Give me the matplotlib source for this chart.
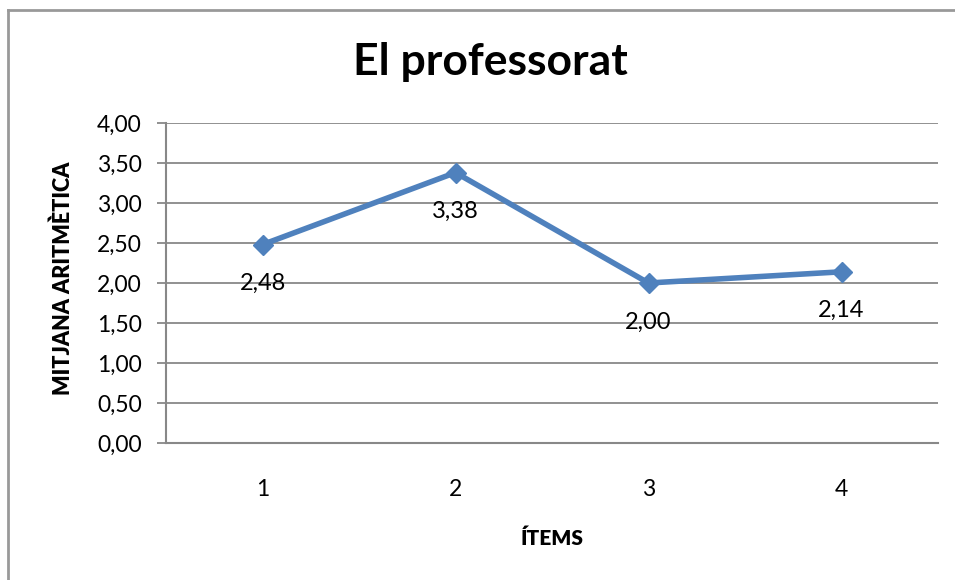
import matplotlib
matplotlib.use("Agg")
import matplotlib.pyplot as plt
from matplotlib.lines import Line2D

plt.rcParams['font.family'] = ['Lato', 'DejaVu Sans']

items = ["1", "2", "3", "4"]
means = [2.48, 3.38, 2.00, 2.14]
y_ticks = [0.0, 0.5, 1.0, 1.5, 2.0, 2.5, 3.0, 3.5, 4.0]

title = "El professorat"
x_label = "ÍTEMS"
y_label = "MITJANA ARITMÈTICA"

line_color = "#4F81BD"
grid_color = "#888888"

fig = plt.figure(figsize=(9.55, 5.80), dpi=100)
W, H = 955, 580

# outer chart frame (left and top edges)
fig.add_artist(Line2D([8 / W, 8 / W], [0, 1 - 10 / H], transform=fig.transFigure,
                      color="#999999", lw=2.0))
fig.add_artist(Line2D([8 / W, 1], [1 - 10 / H, 1 - 10 / H], transform=fig.transFigure,
                      color="#999999", lw=2.0))

ax = fig.add_axes([166 / W, 1 - 443 / H, 772 / W, 320 / H])

x = list(range(len(items)))
ax.plot(x, means, color=line_color, lw=4.0, marker="D", markersize=10,
        markerfacecolor=line_color, markeredgecolor=line_color, zorder=3)

for xi, v in zip(x, means):
    ax.annotate(f"{v:.2f}".replace(".", ","), (xi, v), xytext=(0, -28),
                textcoords="offset points", ha="center", va="center",
                fontsize=17, color="black")

ax.set_xlim(-0.5, len(items) - 0.5)
ax.set_ylim(0, 4)
ax.set_yticks(y_ticks)
ax.set_yticklabels([f"{t:.2f}".replace(".", ",") for t in y_ticks])
ax.set_xticks(x)
ax.set_xticklabels(items)

ax.grid(axis="y", color=grid_color, lw=1.3)
ax.set_axisbelow(True)
for side in ["top", "right"]:
    ax.spines[side].set_visible(False)
for side in ["left", "bottom"]:
    ax.spines[side].set_color(grid_color)
    ax.spines[side].set_linewidth(1.5)

ax.tick_params(axis="y", length=6.5, width=1.3, color=grid_color, labelsize=16.5, pad=11)
ax.tick_params(axis="x", length=0, labelsize=16.5, pad=26)

fig.text(490 / W, 1 - 62 / H, title, ha="center", va="center",
         fontsize=32, fontweight="bold")
fig.text(552 / W, 1 - 538 / H, x_label, ha="center", va="center",
         fontsize=15, fontweight="heavy")
fig.text(63 / W, 1 - 278 / H, y_label, ha="center", va="center", rotation=90,
         fontsize=15.5, fontweight="heavy")

fig.savefig("out.png", dpi=100)
